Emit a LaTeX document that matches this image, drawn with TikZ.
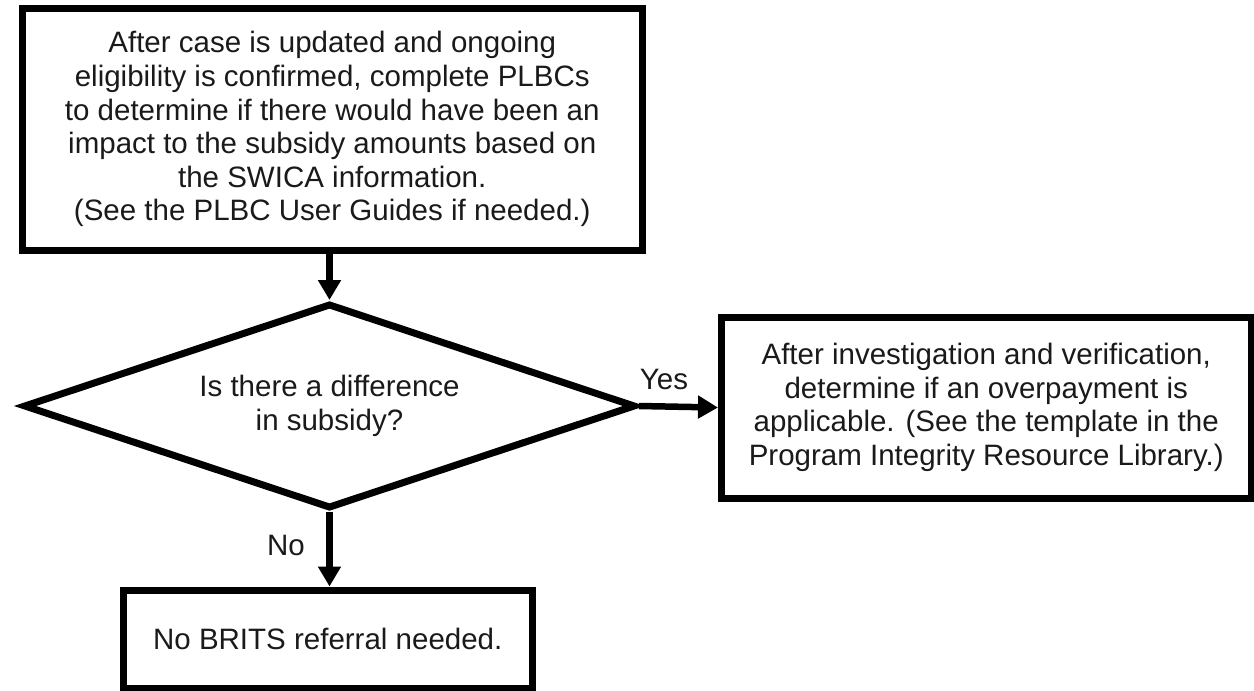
\documentclass[tikz,border=0pt]{standalone}
\usepackage{fontspec}
\setmainfont{Liberation Sans}
\usetikzlibrary{shapes.geometric,arrows.meta}
\definecolor{txt}{HTML}{1A1A1A}
\begin{document}
\begin{tikzpicture}[x=1pt,y=-1pt,
  box/.style={draw=black, line width=7pt, rectangle, inner sep=0pt, align=center,
    text=txt, font=\fontsize{29.5}{33.6}\selectfont, fill=white},
  decision/.style={draw=black, line width=7pt, diamond, aspect=3, inner sep=0pt, align=center,
    text=txt, font=\fontsize{29.5}{34.5}\selectfont, fill=white},
  conn/.style={line width=6.5pt, draw=black, -{Triangle[length=20pt,width=22pt]}},
  lbl/.style={text=txt, font=\fontsize{29.5}{33.6}\selectfont, inner sep=0pt}]
\useasboundingbox[fill=white] (0,0) rectangle (1254,691);
\begin{scope}
\clip (0,0) rectangle (1254,691);
\node[box, minimum width=620.5pt, minimum height=241.5pt] (top) at (332.25,129.25)
  {After case is updated and ongoing\\eligibility is confirmed, complete PLBCs\\to determine if there would have been an\\impact to the subsidy amounts based on\\the SWICA information.\\(See the PLBC User Guides if needed.)};
\node[decision, minimum width=612pt, minimum height=205pt] (dec) at (329.5,406)
  {Is there a difference\\in subsidy?};
\node[box, minimum width=529.5pt, minimum height=181pt] (yesbox) at (986.25,407.5)
  {After investigation and verification,\\determine if an overpayment is\\applicable. (See the template in the\\Program Integrity Resource Library.)};
\node[box, minimum width=408.5pt, minimum height=98pt] (nobox) at (327.75,639)
  {No BRITS referral needed.};
\end{scope}
\draw[conn] (top.south -| dec.north) -- (dec.north);
\draw[conn] (dec.east) -- (yesbox.west);
\draw[conn] (dec.south) -- (nobox.north -| dec.south);
\node[lbl] (yes) at (664,379) {Yes};
\node[lbl] (no) at (286,545) {No};
\end{tikzpicture}
\end{document}
